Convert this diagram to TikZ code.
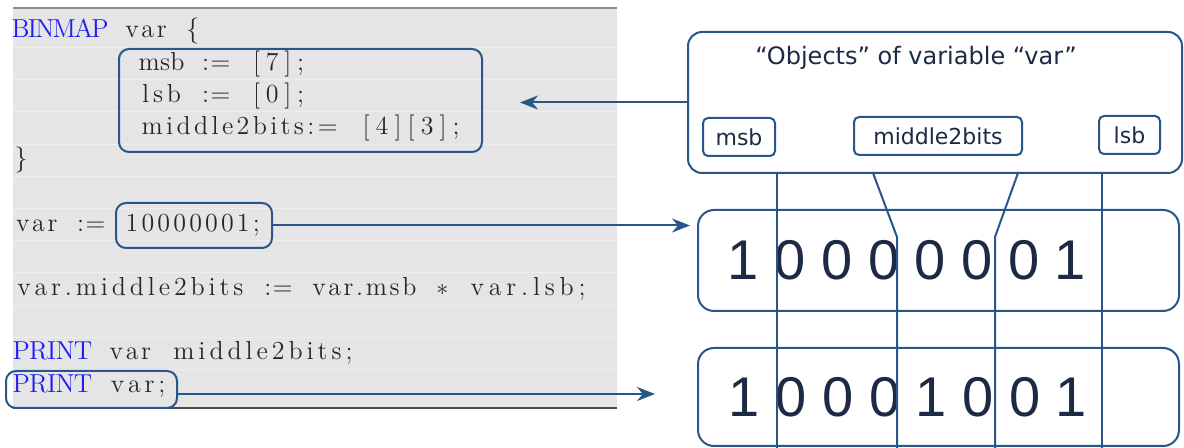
\documentclass[tikz,border=0pt]{standalone}
\usepackage{fontspec}
\usetikzlibrary{arrows.meta,fit}

\newfontfamily\labelfont{DejaVu Sans}
\newfontfamily\bitfont{Liberation Sans}

\definecolor{linecol}{RGB}{40,86,136}
\definecolor{navytext}{RGB}{28,42,70}
\definecolor{codegray}{RGB}{38,38,38}
\definecolor{kwblue}{RGB}{30,30,245}
\definecolor{panelgray}{RGB}{229,229,229}

% fixed-column code lines (each word spread over its columns)
\ExplSyntaxOn
\dim_new:N \l_col_dim
\dim_set:Nn \l_col_dim {7.8pt}
\clist_new:N \l_kw_clist
\clist_set:Nn \l_kw_clist {BINMAP,PRINT}
\cs_new_protected:Npn \__src_word:n #1
  {
    \hbox_to_wd:nn { \tl_count:n {#1} \l_col_dim }
      {
        \clist_if_in:NnT \l_kw_clist {#1} { \color{kwblue} }
        \hss
        \tl_map_inline:nn {#1}
          { \tl_if_eq:nnTF {##1} {*} { $\ast$ } {##1} \hss }
      }
  }
\NewDocumentCommand \codeline { m }
  {
    \seq_set_split:Nnn \l_tmpa_seq { ~ } {#1}
    \bool_set_true:N \l_tmpa_bool
    \seq_map_inline:Nn \l_tmpa_seq
      {
        \bool_if:NF \l_tmpa_bool { \hbox_to_wd:nn { \l_col_dim } { } }
        \bool_set_false:N \l_tmpa_bool
        \__src_word:n {##1}
      }
  }
\ExplSyntaxOff

\begin{document}
\begin{tikzpicture}[x=0.5pt,y=-0.5pt,
    srcline/.style={anchor=base west,inner sep=0pt,text=codegray,font=\fontsize{13}{16}\selectfont},
    codebox/.style={draw=linecol,line width=1pt,rounded corners=5pt,inner sep=0pt},
    objbox/.style={draw=linecol,line width=1pt,rounded corners=7pt,inner sep=0pt,fill=white},
    bitbox/.style={draw=linecol,line width=1pt,rounded corners=8pt,inner sep=0pt,fill=white},
    lblbox/.style={draw=linecol,line width=1pt,rounded corners=2.5pt,inner sep=0pt,fill=white,
        minimum height=19pt,text=navytext,font=\labelfont\fontsize{11}{13}\selectfont},
    bits/.style={text=navytext,font=\bitfont\fontsize{28}{30}\selectfont,inner sep=0pt},
    stripe/.style={draw=white!35!panelgray,line width=0.5pt},
    arr/.style={draw=linecol,line width=1pt,-{Stealth[length=9pt,width=7pt]}},
    link/.style={draw=linecol,line width=1pt}]

    \useasboundingbox (0,0) rectangle (1184,448);

    % code listing
    \fill[panelgray] (13,7) rectangle (617,408);
    \draw[stripe] (13,48) -- (617,48) (13,80) -- (617,80) (13,112) -- (617,112) (13,145) -- (617,145)
        (13,177) -- (617,177) (13,209) -- (617,209) (13,241) -- (617,241) (13,273) -- (617,273)
        (13,306) -- (617,306) (13,338) -- (617,338) (13,370) -- (617,370);
    \draw[black!45,line width=1pt] (13,8) -- (617,8);
    \draw[black!70,line width=1pt] (13,408) -- (617,408);

    \node[srcline] (l0) at (13,38) {\codeline{BINMAP var \{}};
    \node[srcline] (l1) at (137.8,70.2) {\codeline{msb := [7];}};
    \node[srcline] (l2) at (137.8,102.4) {\codeline{lsb := [0];}};
    \node[srcline] (l3) at (137.8,134.6) {\codeline{middle2bits:= [4][3];}};
    \node[srcline] (l4) at (13,166.8) {\codeline{\}}};
    \node[srcline] (l6) at (13,231.2) {\codeline{var := 10000001;}};
    \node[srcline] (l8) at (13,295.6) {\codeline{var.middle2bits := var.msb * var.lsb;}};
    \node[srcline] (l10) at (13,360) {\codeline{PRINT var middle2bits;}};
    \node[srcline] (l11) at (13,392.2) {\codeline{PRINT var;}};

    \node[codebox,fit={(119,49) (482,152)}] (fields) {};
    \node[codebox,fit={(116,203) (272,248)}] (val) {};
    \node[codebox,fit={(6,371) (177,408)}] (print) {};

    % objects of var
    \node[objbox,fit={(688,32) (1182,173)}] (objects) {};
    \node[text=navytext,font=\labelfont\fontsize{12}{14}\selectfont] (title) at (916,58) {“Objects” of variable “var”};
    \node[lblbox,minimum width=36pt] (msb) at (739,137) {msb};
    \node[lblbox,minimum width=84pt] (mid) at (938,136) {middle2bits\hspace{8pt}};
    \node[lblbox,minimum width=30.5pt] (lsb) at (1129.5,135) {lsb};

    % bit patterns
    \node[bitbox,fit={(698,210) (1179,311)}] (before) {};
    \node[bits] (beforebits) at (907,260) {1 0 0 0 0 0 0 1};
    \node[bitbox,fit={(698,348) (1179,446)}] (after) {};
    \node[bits] (afterbits) at (908,397) {1 0 0 0 1 0 0 1};

    \coordinate (fieldtip) at (520,102.5);
    \coordinate (valtip) at (690,225.5);
    \coordinate (printtip) at (655,394);
    \draw[arr] (objects.west) -- (fieldtip);
    \draw[arr] (val.east) -- (valtip);
    \draw[arr] (print.east |- printtip) -- (printtip);

    % bit positions
    \coordinate (msbend) at (777,448);
    \coordinate (lsbend) at (1102,448);
    \coordinate (midLtop) at (873,173);
    \coordinate (midLbend) at (897,237);
    \coordinate (midRtop) at (1018,173);
    \coordinate (midRbend) at (995,237);
    \draw[link] (objects.south -| msbend) -- (msbend);
    \draw[link] (objects.south -| lsbend) -- (lsbend);
    \draw[link] (midLtop) -- (midLbend) -- (midLbend |- msbend);
    \draw[link] (midRtop) -- (midRbend) -- (midRbend |- msbend);
\end{tikzpicture}
\end{document}
